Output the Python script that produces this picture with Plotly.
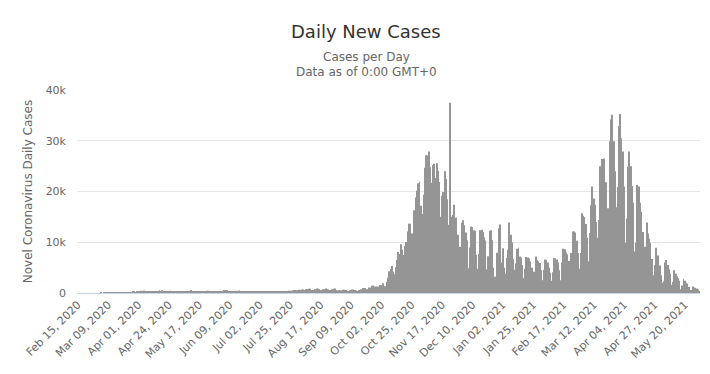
import pandas as pd
import plotly.graph_objects as go

# Categories: one per day
dates = pd.date_range("2020-02-15", "2021-05-31", freq="D")
categories = [d.strftime("%b %d, %Y") for d in dates]

feb_2020 = [0] * 15
mar_2020 = [0, 0, 0, 1, 0, 4, 1, 5, 6, 5, 9, 20, 17, 43, 14, 27, 61, 49, 70, 111, 89, 98, 115, 152, 150, 170, 168, 249, 224, 193, 256]
apr_2020 = [243, 392, 437, 244, 475, 311, 363, 256, 374, 370, 318, 380, 401, 268, 380, 336, 545, 263, 545, 310, 263, 313, 381, 355, 460, 285, 282, 325, 255, 380]
may_2020 = [300, 270, 330, 280, 307, 356, 240, 325, 300, 330, 595, 400, 290, 350, 370, 380, 300, 280, 400, 350, 240, 410, 440, 430, 316, 395, 320, 380, 340, 370, 320]
jun_2020 = [292, 230, 290, 360, 576, 599, 575, 375, 282, 359, 395, 380, 314, 440, 407, 506, 311, 301, 300, 350, 370, 300, 240, 264, 300, 276, 320, 226, 290, 230]
jul_2020 = [300, 290, 370, 300, 300, 260, 250, 350, 300, 350, 300, 299, 240, 270, 320, 330, 300, 340, 330, 330, 360, 370, 400, 420, 440, 440, 520, 530, 600, 560, 600]
aug_2020 = [660, 600, 680, 680, 600, 720, 809, 843, 830, 600, 596, 600, 800, 900, 830, 750, 550, 600, 750, 800, 903, 810, 700, 600, 590, 760, 850, 900, 600, 500, 550]
sep_2020 = [550, 500, 660, 650, 590, 500, 390, 550, 600, 700, 700, 600, 500, 380, 600, 600, 750, 1000, 900, 1000, 740, 750, 1100, 1100, 1400, 1500, 1300, 1000, 1300, 1300]
oct_2020 = [1552, 1587, 1934, 1350, 1306, 2236, 3003, 4280, 4739, 5300, 4178, 3700, 5068, 6526, 8099, 7705, 9622, 8536, 7482, 9291, 10040, 12107, 13632, 13628, 11742, 10241, 16300, 18820, 20156, 21629, 21897]
nov_2020 = [17171, 15578, 19364, 24692, 27143, 27086, 27875, 24785, 21713, 25221, 25484, 22683, 25571, 24051, 21854, 15002, 19152, 19883, 23975, 22464, 18467, 13452, 37500, 15002, 15362, 17395, 14837, 14883, 11483, 5733]
dec_2020 = [9105, 13855, 14325, 13366, 11928, 10398, 4896, 8978, 13101, 13012, 12352, 12199, 7539, 4777, 7704, 12345, 12456, 11997, 11003, 10354, 4633, 7251, 12204, 12361, 10400, 5000, 3200, 3211, 7910, 12782, 13479]
jan_2021 = [6000, 8800, 5000, 3800, 6900, 8500, 13900, 11500, 10000, 6700, 4600, 5800, 8700, 8900, 7200, 7000, 5500, 2900, 4800, 7100, 7000, 6800, 6200, 5000, 2500, 4200, 7200, 6500, 6200, 5900, 4500]
feb_2021 = [2500, 4600, 6600, 6500, 6000, 5000, 4000, 2400, 4100, 6900, 6800, 6600, 6000, 4500, 2500, 6000, 8700, 8600, 8000, 7600, 6300, 3800, 7900, 12100, 12100, 11900, 10300, 7900]
mar_2021 = [4800, 7900, 15700, 15200, 15000, 13600, 10900, 6200, 11800, 17300, 21000, 18600, 17400, 14000, 10900, 14400, 25000, 26400, 25000, 26500, 21800, 14600, 16700, 29900, 34200, 35100, 29900, 24000, 16900, 20900, 32900]
apr_2021 = [35251, 30500, 27900, 21000, 9900, 14700, 24900, 27900, 25000, 21100, 17800, 8200, 9900, 21300, 21000, 17800, 16000, 12000, 5300, 9100, 13900, 11700, 10700, 9900, 6700, 3500, 5500, 8900, 7100, 7400]
may_2021 = [5400, 3500, 2000, 2300, 6000, 6500, 5500, 4700, 3800, 1600, 2200, 4500, 3800, 3300, 2900, 2400, 750, 1500, 2800, 2400, 2000, 1800, 1200, 300, 600, 1300, 1100, 1000, 900, 700, 300]

daily_cases = (feb_2020 + mar_2020 + apr_2020 + may_2020 + jun_2020 + jul_2020 + aug_2020
               + sep_2020 + oct_2020 + nov_2020 + dec_2020 + jan_2021 + feb_2021 + mar_2021
               + apr_2021 + may_2021)

x_tick_labels = categories[::23]
y_tick_values = [0, 10000, 20000, 30000, 40000]
y_tick_labels = ["0", "10k", "20k", "30k", "40k"]

FONT = "DejaVu Sans, Verdana, sans-serif"

fig = go.Figure(go.Bar(
    x=categories,
    y=daily_cases,
    marker=dict(color="#959595", line=dict(width=0)),
    name="Daily Cases",
))

W, H = 710, 374
ml, mr, mt, mb = 77, 10, 90, 81
pw = W - ml - mr

def px_to_paper_x(px):
    return (px - ml) / pw

def px_to_paper_y(py):
    ph = H - mt - mb
    return (H - mb - py) / ph

fig.update_layout(
    width=W, height=H,
    margin=dict(l=ml, r=mr, t=mt, b=mb, autoexpand=False),
    paper_bgcolor="white", plot_bgcolor="white",
    bargap=0.3,
    showlegend=False,
    font=dict(family=FONT, color="#666666", size=11),
    xaxis=dict(
        type="category",
        range=[-0.5, len(categories) - 0.5],
        tickmode="array",
        tickvals=x_tick_labels,
        ticktext=x_tick_labels,
        tickangle=-45,
        tickfont=dict(size=11, color="#666666"),
        showgrid=False,
        showline=True, linecolor="#ccd6eb", linewidth=1,
        ticks="", automargin=False,
    ),
    yaxis=dict(
        range=[0, 40000],
        tickmode="array",
        tickvals=y_tick_values,
        ticktext=y_tick_labels,
        tickfont=dict(size=11, color="#666666"),
        gridcolor="#e6e6e6", gridwidth=1,
        zeroline=False,
        ticks="", ticklabelstandoff=10,
        automargin=False,
        title=dict(text="Novel Coronavirus Daily Cases",
                   font=dict(size=12, color="#666666"), standoff=10),
    ),
    annotations=[
        dict(text="Daily New Cases", xref="paper", yref="paper",
             x=px_to_paper_x(366), y=px_to_paper_y(32), showarrow=False,
             xanchor="center", yanchor="middle",
             font=dict(size=18, color="#333333", family=FONT)),
        dict(text="Cases per Day", xref="paper", yref="paper",
             x=px_to_paper_x(366), y=px_to_paper_y(57), showarrow=False,
             xanchor="center", yanchor="middle",
             font=dict(size=12, color="#666666", family=FONT)),
        dict(text="Data as of 0:00 GMT+0", xref="paper", yref="paper",
             x=px_to_paper_x(366), y=px_to_paper_y(72), showarrow=False,
             xanchor="center", yanchor="middle",
             font=dict(size=12, color="#666666", family=FONT)),
    ],
)

fig.write_html(
    "out.html",
    config={"displayModeBar": False},
    post_script="document.body.style.margin='0';document.body.style.overflow='hidden';",
)
